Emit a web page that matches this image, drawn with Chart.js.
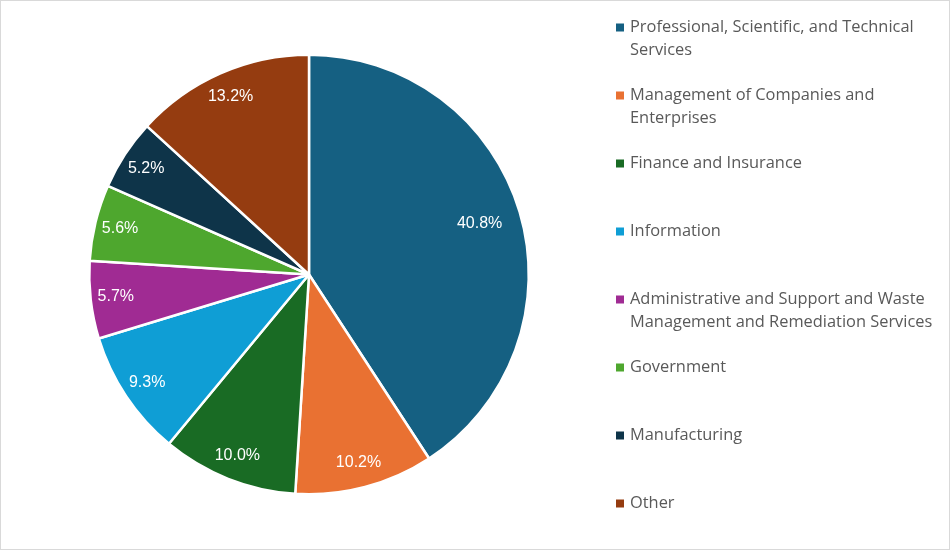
<!DOCTYPE html>
<html>
<head>
<meta charset="utf-8">
<script src="https://cdn.jsdelivr.net/npm/chart.js@4.4.1/dist/chart.umd.min.js"></script>
<style>
  html, body { margin: 0; padding: 0; background: #fff; }
  #wrap { width: 950px; height: 550px; }
</style>
</head>
<body>
<div id="wrap"><canvas id="pie-chart"></canvas></div>
<script>
// industries and their share (%)
const categories = [
  "Professional, Scientific, and Technical Services",
  "Management of Companies and Enterprises",
  "Finance and Insurance",
  "Information",
  "Administrative and Support and Waste Management and Remediation Services",
  "Government",
  "Manufacturing",
  "Other"
];
// legend text broken into lines like the original
const legendLines = [
  ["Professional, Scientific, and Technical", "Services"],
  ["Management of Companies and", "Enterprises"],
  ["Finance and Insurance"],
  ["Information"],
  ["Administrative and Support and Waste", "Management and Remediation Services"],
  ["Government"],
  ["Manufacturing"],
  ["Other"]
];
const shares = [40.8, 10.2, 10.0, 9.3, 5.7, 5.6, 5.2, 13.2];
const colors = ["#156082", "#E97132", "#196B24", "#0F9ED5", "#A02B93", "#4EA72E", "#0E3449", "#953C10"];

// white background + thin grey frame
const frame = {
  id: 'frame',
  beforeDraw(chart) {
    const ctx = chart.ctx;
    ctx.save();
    ctx.fillStyle = '#fff';
    ctx.fillRect(0, 0, chart.width, chart.height);
    ctx.strokeStyle = '#d9d9d9';
    ctx.lineWidth = 1;
    ctx.strokeRect(0.5, 0.5, chart.width - 1, chart.height - 1);
    ctx.restore();
  }
};

// percent labels inside the slices
const sliceLabels = {
  id: 'sliceLabels',
  afterDatasetsDraw(chart) {
    const ctx = chart.ctx;
    const meta = chart.getDatasetMeta(0);
    ctx.save();
    ctx.font = '16px "Liberation Sans", Arial, sans-serif';
    ctx.fillStyle = '#fff';
    ctx.textAlign = 'center';
    ctx.textBaseline = 'middle';
    meta.data.forEach((arc, i) => {
      const p = arc.getProps(['x', 'y', 'startAngle', 'endAngle', 'outerRadius']);
      const mid = (p.startAngle + p.endAngle) / 2;
      const f = shares[i] > 30 ? 0.81 : 0.885;
      const r = p.outerRadius * f;
      ctx.fillText(shares[i].toFixed(1) + '%', p.x + Math.cos(mid) * r, p.y + Math.sin(mid) * r);
    });
    ctx.restore();
  }
};

// legend on the right, one slot per item
const sideLegend = {
  id: 'sideLegend',
  afterDraw(chart) {
    const ctx = chart.ctx;
    ctx.save();
    ctx.font = '16.4px "Open Sans", sans-serif';
    ctx.textBaseline = 'middle';
    legendLines.forEach((lines, i) => {
      const y = 27.5 + i * 68;
      ctx.fillStyle = colors[i];
      ctx.fillRect(616, y - 4, 8, 8);
      ctx.fillStyle = '#595959';
      lines.forEach((t, j) => ctx.fillText(t, 630, y + j * 23));
    });
    ctx.restore();
  }
};

new Chart(document.getElementById("pie-chart"), {
  type: 'pie',
  data: {
    labels: categories,
    datasets: [{
      data: shares,
      backgroundColor: colors,
      borderColor: '#fff',
      borderWidth: 2.5,
      hoverOffset: 0
    }]
  },
  options: {
    responsive: true,
    maintainAspectRatio: false,
    animation: false,
    layout: { padding: { left: 88, right: 420, top: 53, bottom: 54 } },
    plugins: {
      legend: { display: false },
      tooltip: { enabled: false }
    }
  },
  plugins: [frame, sliceLabels, sideLegend]
});
</script>
</body>
</html>
